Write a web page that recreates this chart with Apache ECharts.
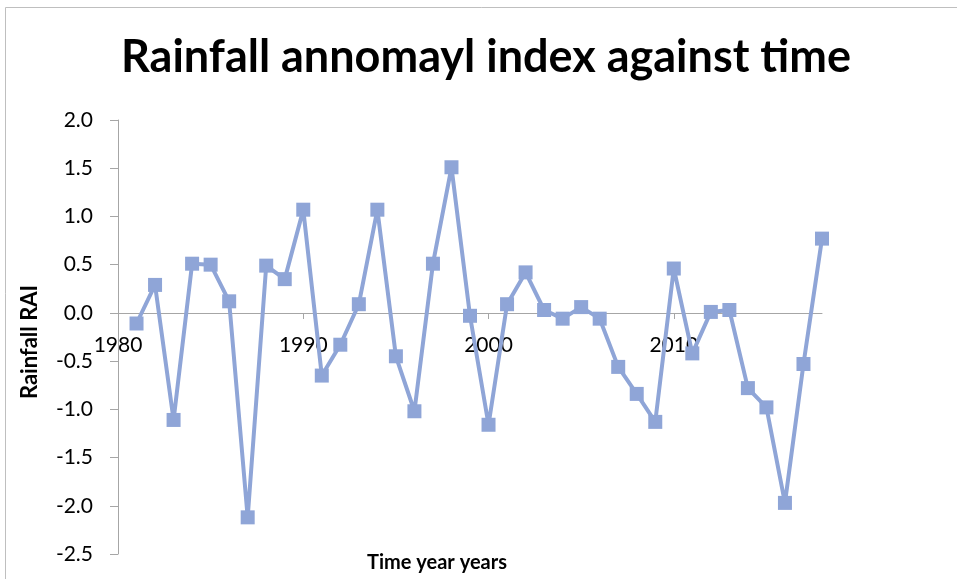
<!DOCTYPE html>
<html>
<head>
<meta charset="utf-8">
<script src="https://cdn.jsdelivr.net/npm/echarts@6/dist/echarts.min.js"></script>
<style>
  html, body { margin: 0; padding: 0; background: #fff; }
  #chart { width: 957px; height: 579px; }
</style>
</head>
<body>
<div id="chart"></div>
<script>
// years 1981..2018, one reading per year
const years = [
  1981, 1982, 1983, 1984, 1985, 1986, 1987, 1988, 1989, 1990,
  1991, 1992, 1993, 1994, 1995, 1996, 1997, 1998, 1999, 2000,
  2001, 2002, 2003, 2004, 2005, 2006, 2007, 2008, 2009, 2010,
  2011, 2012, 2013, 2014, 2015, 2016, 2017, 2018,
];
const rai = [
  -0.11, 0.29, -1.11, 0.51, 0.50, 0.12, -2.12, 0.49, 0.35, 1.07,
  -0.65, -0.33, 0.09, 1.07, -0.45, -1.02, 0.51, 1.51, -0.03, -1.16,
  0.09, 0.42, 0.03, -0.06, 0.06, -0.06, -0.56, -0.84, -1.13, 0.46,
  -0.42, 0.01, 0.03, -0.78, -0.98, -1.97, -0.53, 0.77,
];
const xLabelValues = [1980, 1990, 2000, 2010];
const xTickValues = [1990, 2000, 2010];

const font = 'Lato, "Open Sans", sans-serif';
const lineColor = '#8fa5d7';
const axisGray = '#a6a6a6';

// plot box: 118..822 wide, 120..554 tall; x axis sits on y = 0
const gridTop = 120;
const gridBottom = 25;
const plotH = 579 - gridTop - gridBottom;
const zeroShift = Math.round(plotH * 2.5 / 4.5);

const chart = echarts.init(document.getElementById('chart'), null, { renderer: 'canvas' });

chart.setOption({
  animation: false,
  title: {
    text: 'Rainfall annomayl index against time',
    left: 116,
    top: 30,
    textStyle: { fontFamily: font, fontSize: 45, fontWeight: 'bold', color: '#000' },
  },
  grid: { left: 118, right: 135, top: gridTop, bottom: gridBottom, containLabel: false },
  xAxis: {
    type: 'value',
    min: 1980,
    max: 2018,
    interval: 10,
    offset: -zeroShift,
    axisLine: { onZero: false, lineStyle: { color: axisGray, width: 1 } },
    axisTick: { show: true, length: 6, customValues: xTickValues, lineStyle: { color: axisGray } },
    axisLabel: {
      customValues: xLabelValues,
      margin: 22,
      fontFamily: font,
      fontSize: 21,
      color: '#000',
      formatter: (v) => String(v),
    },
    splitLine: { show: false },
  },
  yAxis: {
    type: 'value',
    min: -2.5,
    max: 2.0,
    interval: 0.5,
    axisLine: { show: true, lineStyle: { color: axisGray, width: 1 } },
    axisTick: { show: true, length: 8, lineStyle: { color: axisGray } },
    axisLabel: {
      margin: 25,
      fontFamily: font,
      fontSize: 21,
      color: '#000',
      formatter: (v) => v.toFixed(1),
    },
    splitLine: { show: false },
  },
  graphic: [
    {
      type: 'rect',
      z: -10,
      shape: { x: 5.5, y: 7.5, width: 1200, height: 1200 },
      style: { fill: 'none', stroke: '#bfbfbf', lineWidth: 1 },
    },
    {
      type: 'text',
      left: 367,
      top: 553,
      style: { text: 'Time year years', fontFamily: font, fontSize: 20, fontWeight: 'bold', fill: '#000' },
    },
    {
      type: 'text',
      x: 19,
      y: 342,
      rotation: Math.PI / 2,
      style: {
        text: 'Rainfall RAI', fontFamily: font, fontSize: 22, fontWeight: 'bold', fill: '#000',
        align: 'center', verticalAlign: 'top',
      },
    },
  ],
  series: [{
    type: 'line',
    data: years.map((y, i) => [y, rai[i]]),
    symbol: 'rect',
    symbolSize: 14,
    itemStyle: { color: lineColor },
    lineStyle: { color: lineColor, width: 4 },
  }],
});
</script>
</body>
</html>
